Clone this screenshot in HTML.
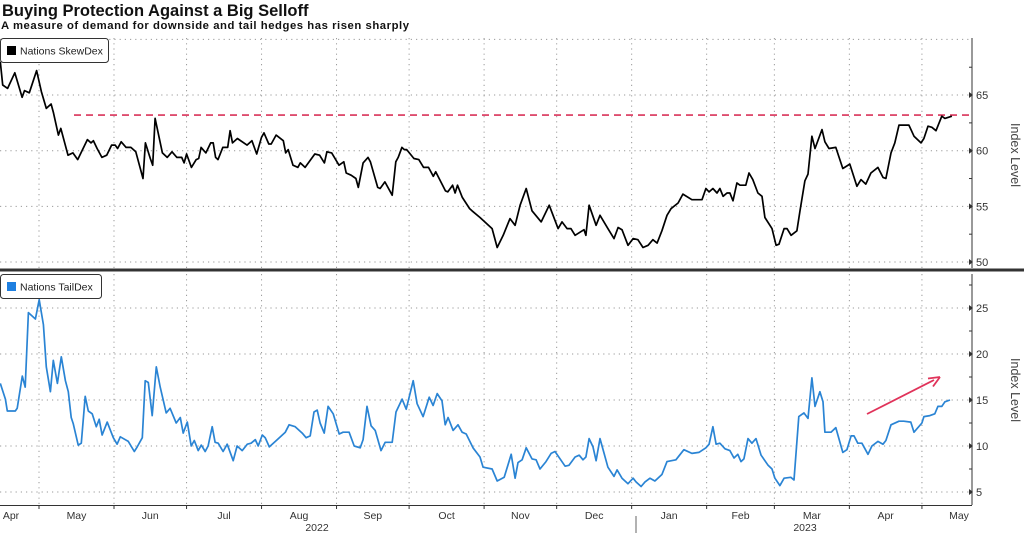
<!DOCTYPE html>
<html><head><meta charset="utf-8"><style>
body{margin:0;background:#fff;width:1024px;height:538px;overflow:hidden;font-family:"Liberation Sans",sans-serif}
svg{display:block}
</style></head><body>
<svg id="chart" width="1024" height="538" xmlns="http://www.w3.org/2000/svg" font-family="Liberation Sans, sans-serif">
<text x="2" y="16" font-size="16.5" font-weight="bold" fill="#111">Buying Protection Against a Big Selloff</text>
<text x="1" y="29" font-size="11.3" font-weight="bold" fill="#111" textLength="408">A measure of demand for downside and tail hedges has risen sharply</text>
<g id="topPanel"></g>
<g id="botPanel"></g>
<g id="xaxis"></g>
</svg>
<script>
// Days since 2022-04-15
const skewDays = [0,1,3,6,9,10,12,15,17,19,21,22,24,25,28,30,32,36,37.5,38.5,40,42,44,46,47.5,48.5,50,52,54,56,59,60,62,63,64,67,69,71,73,75,76,77,79,81,82,83,85,87,88,89,90,92,94,95,96,98,102,104,106,108,109,111,112,114,117,118,119,121,123,124,126,130,132,134,135,137,140,142,143,145,147,148,150,152,153,156,157,159,162,163.5,164.5,166,167,168,171,173,175,177,179,180,184,185,187,188,189,191,194,195,
198.3,203.3,205.4,207.9,210.7,212.8,214.9,217.4,219.8,223.6,226.9,230.6,232.2,234.3,235.9,237.6,241.3,242.1,243.4,246.3,247.9,251.2,253.7,255.4,257,259.5,261.6,263.6,265.7,267.8,269.8,271.5,273.5,275.6,277.3,280.2,282.2,285.9,290.1,291.7,293,294.6,296.3,297.5,298.8,300.4,301.6,302.9,304.5,305.8,308.2,309.5,311.1,313.2,314.9,316.1,319,320.7,321.9,324,325.2,326.9,329.3,330.6,332.6,333.9,335.5,336.8,339.7,340.9,342.6,345.4,348.3,351.2,354.1,355.8,357.8,359.9,362.8,364.9,366.1,368.2,369.8,371.5,373.5,375.6,377.7,380.6,381.8,383.5,385.1,386.8,389.2,390.5,393.4];
const skewValues = [68.0,65.9,65.6,67.0,64.8,65.4,65.2,67.2,65.3,63.8,64.2,63.4,61.4,62.0,59.6,59.8,59.2,61.0,60.7,60.9,60.2,59.4,59.6,60.5,60.5,60.2,60.8,60.3,60.3,59.9,57.5,60.7,59.3,58.7,62.9,59.8,59.4,59.9,59.4,59.4,58.9,59.7,58.5,59.2,59.3,60.3,59.8,60.7,60.7,59.4,59.2,60.3,60.3,61.8,60.7,61.1,60.5,60.9,59.7,61.2,61.6,60.6,60.6,61.4,60.9,59.8,60.1,58.7,58.5,58.9,58.5,59.7,59.6,58.9,59.9,59.8,58.7,59.0,58.0,57.8,57.5,56.7,58.9,59.4,59.0,56.7,56.6,57.2,56.0,59.0,59.4,60.3,60.1,60.1,59.3,59.2,58.5,58.5,57.7,58.1,56.4,56.3,56.9,56.2,56.9,55.8,54.8,54.6,
54.0,53.0,51.3,52.4,53.9,53.3,55.1,56.6,54.6,53.6,55.1,53.0,53.6,53.0,53.0,52.4,52.9,52.4,55.1,53.3,54.2,53.0,52.1,53.1,52.9,51.5,52.1,52.0,51.3,51.5,52.0,51.7,52.8,54.2,54.8,55.3,56.1,55.6,55.6,56.6,56.3,56.6,56.2,56.6,55.9,56.2,56.2,55.5,57.1,56.9,56.9,58.0,57.4,56.2,55.9,54.0,53.0,51.5,51.6,53.0,53.0,52.4,52.8,54.6,57.3,57.9,61.3,60.2,61.9,60.8,60.2,60.3,58.4,58.8,56.8,57.4,57.0,58.0,58.5,57.6,57.5,59.8,60.7,62.3,62.3,62.3,61.3,60.7,61.1,62.2,62.1,61.8,63.1,62.9,63.1];
const tailDays = [0,2.1,2.9,6.2,7,9.1,10.3,11.6,14.5,16.1,17.8,19,20.7,21.9,23.6,25.2,26.9,28.1,29.3,30.2,32.2,33.5,35.1,36.4,38,39.7,40.9,42.1,44.2,46.7,48.3,49.6,52.9,55.4,56.6,58.7,59.9,61.2,62.8,64.5,66.1,68.6,70.2,72.7,74.4,75.6,77.3,78.9,80.2,81.8,83.1,84.7,85.9,87.6,88.8,90.1,92.1,93.8,96.3,97.9,100,102.1,103.7,105.4,106.6,108.3,109.5,111.2,114.5,117.8,119.4,121.9,124.8,126.4,128.1,129.7,131,132.2,133.9,135.5,137.6,140.1,141.7,144.2,146.3,148.8,150,151.6,153.3,155,157.4,159.1,162,163.6,166.1,167.8,170.7,172.3,174.8,177.3,178.9,180.6,182.6,183.9,185.1,187.2,189.2,190.9,192.6,195.4,
198.3,199.6,203.3,205.4,208.3,211.2,212.8,214,215.7,217.4,219.8,221.5,223.1,225.6,227.7,229.3,233.5,235.1,237.6,239.3,240.9,242.1,243.4,245,246.3,247.9,249.6,251.2,253.7,255,257,259.5,261.6,262.8,264.9,266.5,268.6,270.6,273.5,275.6,279.3,282.6,285.9,288.8,291.7,293,294.6,295.9,297.5,299.6,301.6,303.3,304.9,306.2,307.4,309.1,310.7,312.4,314.5,317.4,319,320.2,322.3,324,326.8,328.1,330.1,332.2,333.9,335.5,336.8,338.8,340.1,340.9,343.4,345.4,348.3,350,351.7,352.9,354.5,356.2,358.7,360.3,362.8,364.9,366.1,368.2,371.5,373.5,376.4,377.7,381,381.8,384.3,386.3,387.6,389.2,390.5,392.6];
const tailValues = [16.8,15.1,13.8,13.8,14.1,17.6,16.4,24.5,23.8,25.9,23.2,18.6,15.9,19.3,16.8,19.7,17.1,15.9,13.1,12.4,10.1,10.3,15.4,13.8,13.5,12.1,12.9,11.2,12.6,10.9,10.2,11.0,10.5,9.4,9.9,10.9,17.1,16.9,13.3,18.6,16.4,13.6,14.1,12.5,13.1,11.4,12.6,10.0,10.6,9.5,10.1,9.4,10.0,12.1,10.4,10.3,9.4,10.2,8.4,10.0,9.5,10.2,10.3,10.7,10.0,11.2,10.9,9.9,10.7,11.5,12.3,12.1,11.4,10.9,11.1,13.7,13.9,12.5,11.4,14.3,13.5,11.3,11.5,11.5,10.0,9.8,10.7,14.3,12.2,11.7,9.5,10.4,10.4,13.7,15.1,14.0,17.1,14.6,13.2,15.3,14.4,15.7,14.9,12.3,13.1,11.7,12.3,11.5,11.3,9.8,
8.8,7.7,7.5,6.2,6.6,9.1,6.5,8.2,8.5,9.8,8.6,8.5,7.5,8.3,9.2,9.4,7.8,7.9,8.8,9.0,8.5,8.8,10.8,9.9,8.4,10.8,9.2,7.7,6.7,7.4,6.5,5.9,6.5,6.1,5.6,6.1,6.5,6.2,6.9,8.3,8.5,9.6,9.2,9.3,9.8,10.2,12.1,10.2,10.3,9.7,9.5,8.7,9.1,8.3,8.6,10.8,10.3,10.8,9.0,7.9,7.5,6.5,5.7,6.5,6.6,6.3,13.2,13.6,13.0,17.4,14.3,15.9,14.8,11.5,11.5,12.0,9.3,9.6,11.1,11.1,10.3,10.3,9.1,10.0,10.5,10.2,10.6,12.3,12.7,12.7,12.6,11.5,12.5,13.2,13.3,13.5,14.3,14.3,14.8,15.0];
const skewTicks = [50,55,60,65];
const tailTicks = [5,10,15,20,25];
const skewReference = 63.2;
const monthStartDays = [16,47,77,108,139,169,200,230,261,292,320,351,381];
const monthLabels = ['Apr','May','Jun','Jul','Aug','Sep','Oct','Nov','Dec','Jan','Feb','Mar','Apr','May'];

const NS='http://www.w3.org/2000/svg';
function mk(tag,attrs,parent,txt){const e=document.createElementNS(NS,tag);for(const k in attrs)e.setAttribute(k,attrs[k]);if(txt!=null)e.textContent=txt;parent.appendChild(e);return e;}
const AX=972;
const xS=d=>39+(d-16)*2.419;
const ySkew=v=>262-(v-50)*11.13;
const yTail=v=>492-(v-5)*9.2;
const topG=document.getElementById('topPanel'), botG=document.getElementById('botPanel'), xa=document.getElementById('xaxis');

function panel(g,y0,y1,ysc,ticks,minors,extraGrid){
  monthStartDays.forEach(d=>{const l=mk('line',{x1:xS(d),x2:xS(d),y1:y0,y2:y1,stroke:'#999','stroke-width':1,'stroke-dasharray':'1.2,4'},g);
    
    });
  ticks.concat(extraGrid).forEach(v=>{const l=mk('line',{x1:0,x2:AX,y1:ysc(v),y2:ysc(v),stroke:'#999','stroke-width':1,'stroke-dasharray':'1.2,4'},g);
    
    });
  const ax=mk('line',{x1:AX,x2:AX,y1:y0,y2:y1,stroke:'#333','stroke-width':1},g);
  
  
  ticks.forEach(v=>{
    const t=mk('path',{d:`M${AX-3} ${ysc(v)-3}L${AX+1} ${ysc(v)}L${AX-3} ${ysc(v)+3}Z`,fill:'#333'},g);
    
    
    const l=mk('text',{x:AX+4,y:ysc(v)+4,'font-size':11,fill:'#333'},g,String(v));
    
    });
  minors.forEach(v=>{const t=mk('line',{x1:AX-3,x2:AX,y1:ysc(v),y2:ysc(v),stroke:'#333'},g);
    
    });
}
function series(g,days,vals,ysc,color,name){
  const n=Math.min(days.length,vals.length);let d='';
  for(let i=0;i<n;i++)d+=(i?'L':'M')+xS(days[i]).toFixed(1)+' '+ysc(vals[i]).toFixed(1);
  const p=mk('path',{d,fill:'none',stroke:color,'stroke-width':1.7,'stroke-linejoin':'round'},g);
  
  
}
function legend(g,x,y,w,color,label,name){
  const r=mk('rect',{x:x+0.5,y:y+0.5,width:w,height:24,rx:3,fill:'#fff',stroke:'#333'},g);
  
  
  const s=mk('rect',{x:x+7,y:y+8,width:9,height:9,fill:color},g);
  
  
  const t=mk('text',{x:x+20,y:y+16.5,'font-size':10.5,fill:'#222'},g,label);
  
  
}
function axisTitle(g,cy){const t=mk('text',{x:0,y:0,'font-size':12.5,fill:'#444','text-anchor':'middle',transform:`translate(1011 ${cy}) rotate(90)`},g,'Index Level');
  
  }

panel(topG,38,268,ySkew,skewTicks,[52.5,57.5,62.5,67.5],[70]);
const ref=mk('line',{x1:74,x2:AX,y1:ySkew(skewReference),y2:ySkew(skewReference),stroke:'#d9335a','stroke-width':1.6,'stroke-dasharray':'7,5'},topG);


series(topG,skewDays,skewValues,ySkew,'#000','skewdex-line');
legend(topG,0,38,108,'#000','Nations SkewDex','skewdex-legend');
axisTitle(topG,155);

panel(botG,274,505,yTail,tailTicks,[7.5,12.5,17.5,22.5,27.5],[]);
series(botG,tailDays,tailValues,yTail,'#2a84d4','taildex-line');
legend(botG,0,274,101,'#1e7fe0','Nations TailDex','taildex-legend');
axisTitle(botG,390);
const arr=mk('g',{},botG);


mk('line',{x1:867,y1:414,x2:934,y2:380,stroke:'#e0335a','stroke-width':1.8},arr);
mk('path',{d:'M940 377L928 378.5M940 377L933 386.5',stroke:'#e0335a','stroke-width':1.8,fill:'none'},arr);

const sep=mk('rect',{x:0,y:268.5,width:1024,height:3,fill:'#333'},xa);


const bl=mk('line',{x1:0,x2:AX,y1:505.5,y2:505.5,stroke:'#333'},xa);


monthStartDays.forEach(d=>{const t=mk('line',{x1:xS(d),x2:xS(d),y1:505,y2:509,stroke:'#333'},xa);
  
  });
const bounds=[-6].concat(monthStartDays).concat([405]);
monthLabels.forEach((m,i)=>{let cx=(xS(bounds[i])+xS(bounds[i+1]))/2; if(i===0)cx=11; if(i===monthLabels.length-1)cx=959;
  const t=mk('text',{x:cx,y:519,'font-size':10.5,fill:'#333','text-anchor':'middle'},xa,m);
  
  });
[['2022',317],['2023',805]].forEach(([yr,x])=>{const t=mk('text',{x,y:531,'font-size':10.5,fill:'#333','text-anchor':'middle'},xa,yr);
  
  });
const ysep=mk('line',{x1:636,x2:636,y1:516,y2:533,stroke:'#666'},xa);


</script>
</body></html>
